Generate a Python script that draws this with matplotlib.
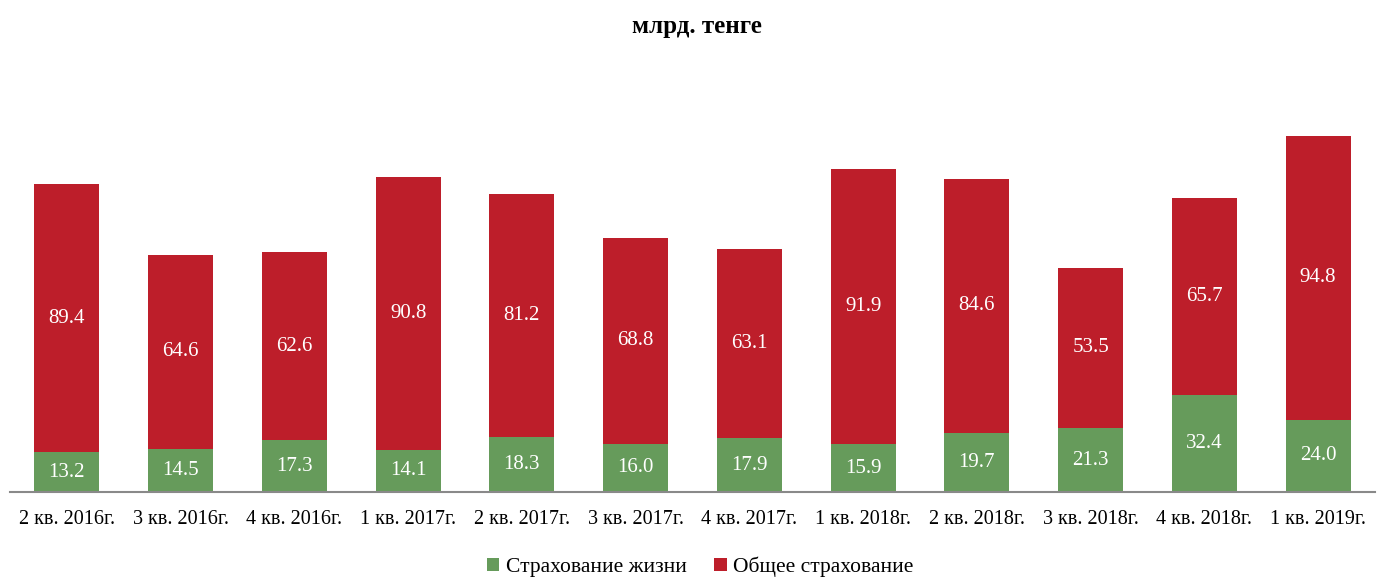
import matplotlib
matplotlib.use("Agg")
import matplotlib.pyplot as plt
import numpy as np

categories = ["2 кв. 2016г.", "3 кв. 2016г.", "4 кв. 2016г.", "1 кв. 2017г.",
              "2 кв. 2017г.", "3 кв. 2017г.", "4 кв. 2017г.", "1 кв. 2018г.",
              "2 кв. 2018г.", "3 кв. 2018г.", "4 кв. 2018г.", "1 кв. 2019г."]
life = [13.2, 14.5, 17.3, 14.1, 18.3, 16.0, 17.9, 15.9, 19.7, 21.3, 32.4, 24.0]
general = [89.4, 64.6, 62.6, 90.8, 81.2, 68.8, 63.1, 91.9, 84.6, 53.5, 65.7, 94.8]

plt.rcParams['font.family'] = ['Liberation Serif', 'DejaVu Serif']

green = "#669b5b"
red = "#bd1e2a"

fig = plt.figure(figsize=(13.78, 5.79), dpi=100)
ax = fig.add_axes([10/1378, 87/579, 1365/1378, 420/579])

x = np.arange(len(categories))
w = 0.57
b1 = ax.bar(x, life, w, color=green, label="Страхование жизни")
b2 = ax.bar(x, general, w, bottom=life, color=red, label="Общее страхование")

for xi, l, g in zip(x, life, general):
    ax.text(xi, l/2, f"{l:.1f}", ha="center", va="center", color="white", fontsize=15)
    ax.text(xi, l + g/2, f"{g:.1f}", ha="center", va="center", color="white", fontsize=15)

ax.set_xlim(-0.5, len(categories) - 0.5)
ax.set_ylim(0, 140)
ax.set_yticks([])
for s in ["top", "right", "left"]:
    ax.spines[s].set_visible(False)
ax.spines["bottom"].set_color("#898989")
ax.spines["bottom"].set_linewidth(1.5)
ax.set_xticks(x)
ax.set_xticklabels(categories, fontsize=14.5)
ax.tick_params(axis="x", length=0, pad=13)

fig.text(697/1378, 1 - 27/579, "млрд. тенге", ha="center", va="center", fontsize=18, fontweight="bold")

fig.legend(handles=[b1, b2], loc="center", bbox_to_anchor=(700/1378, 1 - 567/579), ncol=2,
           frameon=False, fontsize=15.5, handlelength=0.6, handleheight=0.6,
           handletextpad=0.3, columnspacing=1.25)

fig.savefig("out.png", dpi=100)
